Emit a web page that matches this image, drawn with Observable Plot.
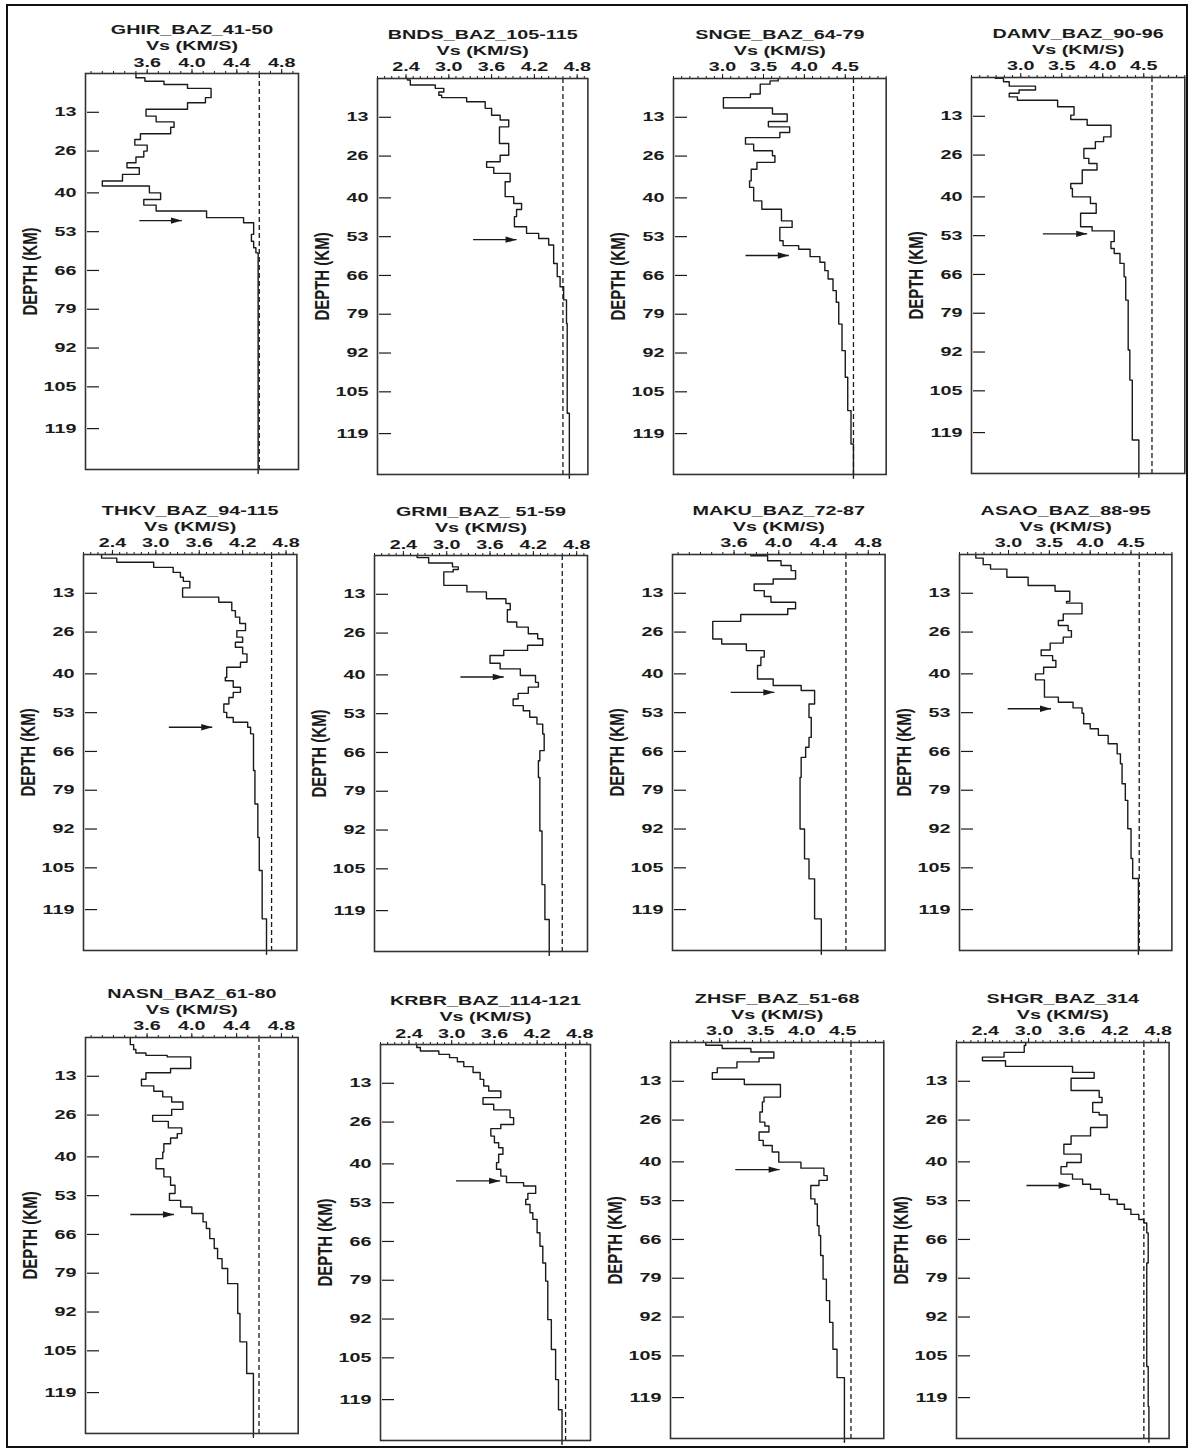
<!DOCTYPE html>
<html><head><meta charset="utf-8">
<script src="https://cdn.jsdelivr.net/npm/d3@7"></script>
<script src="https://cdn.jsdelivr.net/npm/@observablehq/plot@0.6"></script>
<style>
body{margin:0;background:#fff;}
#fig{position:relative;width:1192px;height:1452px;background:#fff;color:#111;overflow:hidden;}
#border{position:absolute;left:6px;top:4px;width:1178px;height:1440px;border:2px solid #111;}
</style></head><body>
<div id="fig"><div id="border"></div></div>
<script>
// ---------- data ----------
const titles = ["GHIR_BAZ_41-50","BNDS_BAZ_105-115","SNGE_BAZ_64-79","DAMV_BAZ_90-96",
  "THKV_BAZ_94-115","GRMI_BAZ_ 51-59","MAKU_BAZ_72-87","ASAO_BAZ_88-95",
  "NASN_BAZ_61-80","KRBR_BAZ_114-121","ZHSF_BAZ_51-68","SHGR_BAZ_314"];
const xLabel = "Vs (KM/S)";
const yLabel = "DEPTH (KM)";
const depthTicks = [13, 26, 40, 53, 66, 79, 92, 105, 119];
const xTicksA = [3.6, 4.0, 4.4, 4.8];
const xTicksB = [2.4, 3.0, 3.6, 4.2, 4.8];
const xTicksC = [3.0, 3.5, 4.0, 4.5];
const xDomainA = [3.05, 4.95];
const xDomainB = [2.0, 4.95];
const xDomainC = [2.4, 5.0];
const depthDomain = [0, 132.7];
const refVs = 4.6;
const modelBottom = 134;

// [layer-top depth (km), Vs (km/s)]
const GHIR_vs = [[0,3.50],[1.4,3.58],[2.6,3.75],[3.7,3.96],[5.0,4.17],[8.1,4.12],[9.8,3.96],[12.0,3.59],[14.3,3.68],[16.2,3.84],[18.0,3.81],[20.2,3.54],[22.1,3.49],[24.0,3.60],[26.0,3.57],[28.0,3.50],[29.9,3.42],[31.6,3.53],[33.8,3.38],[36.0,3.20],[37.7,3.62],[40.0,3.72],[42.2,3.57],[44.1,3.68],[46.1,4.13],[48.3,4.46],[50.0,4.55],[53.9,4.53],[56.2,4.55],[58.4,4.57],[60.1,4.59]];
const BNDS_vs = [[0,2.42],[0.5,2.46],[2.2,2.81],[3.3,2.93],[4.5,2.86],[5.6,2.90],[6.4,3.25],[7.8,3.51],[10.0,3.60],[12.3,3.72],[13.9,3.84],[16.2,3.71],[21.8,3.84],[25.7,3.72],[27.9,3.53],[29.8,3.63],[31.8,3.86],[34.6,3.79],[39.6,3.91],[41.9,4.02],[43.9,3.95],[46.3,3.92],[49.7,4.09],[51.9,4.26],[53.6,4.40],[55.8,4.47],[62.0,4.52],[66.4,4.56],[69.8,4.61],[74.2,4.65],[82.1,4.66],[112.2,4.69]];
const SNGE_vs = [[0,3.68],[0.8,3.58],[1.9,3.46],[5.2,3.34],[6.4,3.01],[9.9,3.61],[11.9,3.79],[14.4,3.56],[16.2,3.82],[18.1,3.70],[19.8,3.28],[22.0,3.38],[24.2,3.61],[25.9,3.64],[28.1,3.42],[30.4,3.35],[34.3,3.33],[36.5,3.38],[41.0,3.48],[43.8,3.72],[47.7,3.85],[49.9,3.70],[54.4,3.74],[56.0,3.93],[57.2,4.07],[59.7,4.19],[61.6,4.25],[64.4,4.29],[67.2,4.35],[71.1,4.39],[75.0,4.42],[82.3,4.46],[91.2,4.50],[100.1,4.53],[111.3,4.57],[122.5,4.60]];
const DAMV_vs = [[0,2.69],[0.3,2.79],[1.4,2.86],[2.9,3.18],[4.2,2.98],[5.3,2.86],[6.5,2.96],[7.6,3.45],[9.8,3.65],[12.6,3.61],[14.1,3.81],[16.0,4.10],[19.9,4.01],[21.5,3.91],[23.8,3.77],[27.1,3.83],[28.8,3.93],[31.0,3.75],[35.5,3.61],[37.2,3.63],[40.0,3.85],[42.2,3.92],[45.5,3.73],[50.0,3.87],[51.4,4.14],[55.0,4.10],[57.3,4.14],[59.0,4.21],[62.3,4.26],[66.8,4.28],[74.6,4.31],[91.3,4.33],[101.4,4.36],[121.5,4.44]];
const THKV_vs = [[0,2.25],[1.2,2.46],[2.6,2.97],[4.3,3.24],[6.0,3.34],[7.6,3.38],[9.0,3.47],[11.2,3.37],[14.3,3.87],[16.0,4.05],[18.8,4.10],[21.0,4.16],[23.1,4.24],[25.5,4.12],[27.7,4.20],[29.4,4.10],[31.1,4.20],[33.3,4.26],[36.1,4.17],[37.8,3.98],[41.2,3.96],[42.3,4.07],[44.5,4.17],[46.2,4.07],[47.9,4.01],[50.1,3.94],[52.9,3.98],[54.6,4.07],[56.2,4.27],[57.9,4.31],[60.1,4.35],[72.4,4.37],[83.6,4.41],[94.8,4.43],[105.9,4.47],[122.1,4.53]];
const GRMI_vs = [[0,2.59],[0.7,2.75],[2.5,3.08],[3.8,3.16],[4.7,3.09],[5.5,2.96],[10.0,3.28],[12.2,3.55],[14.5,3.82],[16.1,3.88],[18.2,3.84],[22.3,3.97],[24.0,4.13],[26.2,4.26],[27.9,4.33],[30.1,4.12],[31.8,3.79],[33.5,3.60],[36.1,3.74],[38.0,4.02],[40.2,4.23],[42.5,4.27],[44.1,4.13],[46.2,3.99],[48.1,3.92],[50.3,4.06],[52.0,4.15],[54.2,4.25],[56.5,4.33],[59.8,4.35],[65.4,4.29],[68.8,4.27],[74.4,4.29],[92.3,4.32],[110.3,4.36],[122.0,4.42]];
const MAKU_vs = [[0,3.75],[0.4,3.90],[2.1,4.02],[3.7,4.11],[5.4,4.15],[8.2,3.95],[9.9,3.78],[12.1,3.87],[14.1,3.93],[16.0,4.15],[18.2,4.08],[20.1,3.66],[22.4,3.41],[28.3,3.49],[30.0,3.71],[32.2,3.87],[34.4,3.84],[37.2,3.81],[41.7,3.95],[43.9,4.20],[45.6,4.32],[50.1,4.27],[54.6,4.29],[61.3,4.27],[64.6,4.24],[68.0,4.20],[74.7,4.19],[92.0,4.23],[102.0,4.27],[108.7,4.32],[122.1,4.38]];
const ASAO_vs = [[0,2.60],[1.2,2.69],[3.4,2.78],[4.9,2.98],[7.6,3.24],[10.4,3.57],[12.3,3.75],[15.7,3.71],[16.3,3.90],[19.9,3.67],[22.1,3.61],[23.8,3.73],[25.5,3.77],[27.7,3.67],[29.7,3.51],[32.0,3.40],[33.9,3.54],[35.5,3.58],[37.8,3.43],[40.0,3.33],[42.0,3.44],[47.8,3.61],[49.5,3.79],[51.4,3.90],[53.2,3.92],[56.7,4.00],[58.4,4.10],[60.6,4.22],[63.4,4.33],[66.8,4.37],[70.1,4.39],[76.8,4.43],[82.4,4.46],[91.9,4.50],[101.9,4.52],[108.6,4.59]];
const NASN_vs = [[0,3.45],[2.4,3.48],[4.0,3.50],[5.2,3.59],[6.0,3.78],[6.5,3.99],[10.4,3.81],[11.8,3.59],[14.0,3.55],[16.2,3.66],[18.0,3.74],[19.9,3.82],[21.6,3.92],[24.1,3.82],[26.1,3.65],[28.1,3.79],[30.3,3.91],[32.2,3.87],[33.7,3.81],[35.6,3.75],[38.4,3.74],[40.6,3.68],[44.0,3.75],[46.7,3.81],[49.5,3.85],[52.3,3.80],[54.6,3.90],[56.8,4.00],[59.0,4.10],[61.8,4.13],[64.0,4.16],[67.4,4.20],[70.7,4.23],[74.1,4.27],[77.4,4.32],[82.5,4.41],[92.5,4.43],[102.0,4.49],[112.6,4.55]];
const KRBR_vs = [[0,2.51],[1.0,2.56],[2.2,2.82],[3.3,2.97],[4.4,3.08],[5.8,3.17],[7.4,3.30],[9.4,3.40],[11.7,3.45],[13.9,3.52],[15.6,3.69],[17.8,3.44],[20.0,3.59],[21.9,3.82],[24.5,3.87],[26.8,3.69],[28.2,3.55],[30.7,3.60],[32.9,3.66],[34.6,3.72],[36.8,3.66],[39.6,3.63],[41.8,3.69],[44.1,3.77],[46.3,4.01],[47.4,4.18],[49.9,4.07],[51.9,4.04],[53.6,4.10],[56.4,4.14],[58.6,4.20],[63.1,4.24],[67.6,4.28],[73.2,4.32],[79.3,4.35],[92.2,4.40],[102.2,4.46],[112.3,4.50],[122.4,4.55]];
const ZHSF_vs = [[0,2.83],[0.9,3.03],[2.0,3.38],[3.2,3.66],[5.2,3.48],[6.5,3.21],[8.5,2.97],[10.1,2.91],[12.3,3.30],[14.1,3.74],[18.3,3.54],[19.9,3.52],[23.3,3.49],[26.7,3.55],[28.0,3.60],[30.0,3.48],[32.8,3.53],[34.5,3.64],[36.7,3.72],[40.1,3.99],[42.1,4.27],[44.6,4.31],[46.2,4.21],[47.9,4.11],[52.4,4.16],[54.1,4.19],[61.4,4.21],[64.7,4.23],[71.4,4.26],[79.3,4.30],[86.5,4.34],[93.8,4.38],[102.8,4.43],[112.3,4.52]];
const SHGR_vs = [[0,2.96],[1.0,2.94],[3.3,2.66],[4.9,2.36],[6.1,2.68],[8.0,3.61],[10.0,3.91],[12.0,3.59],[16.1,3.98],[18.4,4.02],[20.1,3.89],[23.4,3.98],[24.3,4.09],[28.5,3.86],[31.3,3.59],[34.1,3.49],[37.4,3.73],[40.2,3.53],[41.6,3.45],[44.1,3.61],[45.8,3.75],[47.5,3.86],[49.2,4.00],[50.9,4.12],[52.6,4.23],[54.2,4.33],[55.9,4.42],[57.6,4.53],[59.3,4.60],[60.5,4.64],[63.8,4.66],[73.9,4.64],[108.6,4.66],[122.0,4.67]];

// Moho arrows: depth (km), tail Vs, head Vs
const arrowDepth = [49.3, 54.0, 59.3, 52.4, 57.9, 40.7, 46.2, 51.7, 59.3, 45.7, 42.6, 47.9];
const arrowFrom  = [3.53, 3.34, 3.28, 3.27, 3.18, 3.19, 3.57, 2.99, 3.45, 3.06, 3.19, 2.97];
const arrowTo    = [3.91, 3.95, 3.81, 3.81, 3.78, 3.79, 3.96, 3.52, 3.84, 3.68, 3.73, 3.57];

const profiles = [GHIR_vs, BNDS_vs, SNGE_vs, DAMV_vs, THKV_vs, GRMI_vs, MAKU_vs, ASAO_vs, NASN_vs, KRBR_vs, ZHSF_vs, SHGR_vs];

// ---------- layout (frame positions in page pixels) ----------
const layout = [
  {left: 85,    top: 72.9,   w: 213,   s: "A"},
  {left: 377.3, top: 77.9,   w: 210.4, s: "B"},
  {left: 673.3, top: 77.9,   w: 212.7, s: "C"},
  {left: 971,   top: 76.9,   w: 213.3, s: "C"},
  {left: 83.3,  top: 553.9,  w: 213.4, s: "B"},
  {left: 374.3, top: 555.2,  w: 213,   s: "B"},
  {left: 671.7, top: 553.9,  w: 212.6, s: "A"},
  {left: 959.3, top: 553.9,  w: 212.4, s: "C"},
  {left: 85,    top: 1037.2, w: 212.7, s: "A"},
  {left: 380,   top: 1043.5, w: 210,   s: "B"},
  {left: 670,   top: 1042.2, w: 213.3, s: "C"},
  {left: 955.7, top: 1041.9, w: 212.6, s: "B"}
];
const xScales = {
  A: {domain: xDomainA, ticks: xTicksA},
  B: {domain: xDomainB, ticks: xTicksB},
  C: {domain: xDomainC, ticks: xTicksC}
};
const frameH = 396;
const mL = 90, mT = 75, mR = 24, mB = 16;
const FONT = "'Liberation Sans', Arial, Helvetica, sans-serif";
const INK = "#1a1a1a";

const arrowHead = {
  draw(ctx) { ctx.moveTo(0, 0); ctx.lineTo(-11, -3.2); ctx.lineTo(-11, 3.2); ctx.closePath(); }
};

function stretch(svg) {
  svg.querySelectorAll("text").forEach(t => {
    const tr = t.getAttribute("transform") || "";
    t.setAttribute("transform", tr + (tr.includes("rotate") ? " scale(1,1.3)" : " scale(1.52,1)"));
  });
}

const fig = document.getElementById("fig");
layout.forEach((L, i) => {
  const xs = xScales[L.s];
  const minor = d3.range(Math.ceil(xs.domain[0] * 10 - 1e-6), Math.floor(xs.domain[1] * 10 + 1e-6) + 1).map(v => v / 10);
  const prof = profiles[i];
  const line = [...prof, [modelBottom, prof[prof.length - 1][1]]];
  const arrow = [{d: arrowDepth[i], a: arrowFrom[i], b: arrowTo[i]}];
  const svg = Plot.plot({
    width: mL + L.w + mR,
    height: mT + frameH + mB,
    marginLeft: mL, marginRight: mR, marginTop: mT, marginBottom: mB,
    style: {background: "transparent", overflow: "visible", fontFamily: FONT, fontWeight: "bold", color: INK, maxWidth: "none"},
    x: {domain: xs.domain},
    y: {domain: depthDomain, reverse: true},
    marks: [
      Plot.axisX({anchor: "top", ticks: minor, tickSize: 3, fill: "none", stroke: INK, label: null}),
      Plot.axisX({anchor: "top", ticks: xs.ticks, tickSize: 5, tickPadding: 2, tickFormat: d3.format(".1f"), fontSize: 13, fontWeight: "bold", stroke: INK, fill: INK, label: null}),
      Plot.axisY({anchor: "left", ticks: depthTicks, tickSize: 12, dx: 14, fill: "none", stroke: INK, strokeWidth: 1.2, label: null}),
      Plot.axisY({anchor: "left", ticks: depthTicks, tickSize: 0, tickPadding: 9, fontSize: 13, fontWeight: "bold", fill: INK, label: null}),
      Plot.ruleX([refVs], {x: d => d, y1: depthDomain[0], y2: modelBottom, stroke: INK, strokeWidth: 1.3, strokeDasharray: "5,3"}),
      Plot.line(line, {x: d => d[1], y: d => d[0], curve: "step-before", stroke: INK, strokeWidth: 1.4}),
      Plot.link(arrow, {x1: d => d.a, x2: d => d.b, y1: d => d.d, y2: d => d.d, stroke: INK, strokeWidth: 1.4}),
      Plot.dot(arrow, {x: d => d.b, y: d => d.d, symbol: arrowHead, fill: INK, stroke: "none", r: 4}),
      Plot.frame({stroke: "#333", strokeWidth: 1.6}),
      Plot.text([titles[i]], {text: d => d, frameAnchor: "top", lineAnchor: "middle", textAnchor: "middle", dy: -44, fontSize: 13, fontWeight: "bold", fill: INK}),
      Plot.text([xLabel], {text: d => d, frameAnchor: "top", lineAnchor: "middle", textAnchor: "middle", dy: -28, fontSize: 13, fontWeight: "bold", fill: INK}),
      Plot.text([yLabel], {text: d => d, frameAnchor: "left", lineAnchor: "middle", textAnchor: "middle", dx: -55, rotate: -90, fontSize: 15, fontWeight: "bold", fill: INK})
    ]
  });
  stretch(svg);
  svg.style.position = "absolute";
  svg.style.left = (L.left - mL) + "px";
  svg.style.top = (L.top - mT) + "px";
  fig.appendChild(svg);
});
</script>
</body></html>
